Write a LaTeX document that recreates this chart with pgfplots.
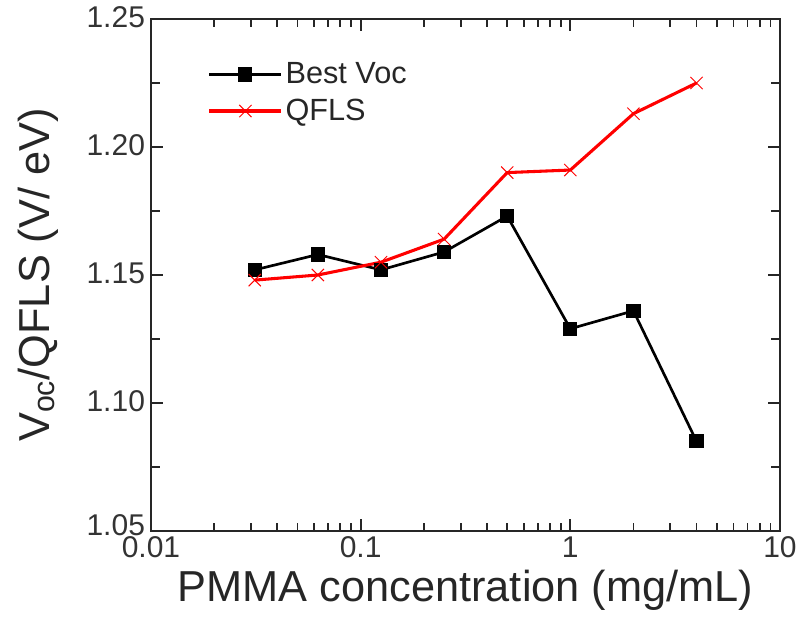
\documentclass[border=0pt]{standalone}
\usepackage{pgfplots}
\pgfplotsset{compat=1.18}
\usepackage{fontspec}
\setmainfont{Liberation Sans}
\begin{document}
\begin{tikzpicture}
\begin{axis}[
  name=ax,
  scale only axis,
  width=471.75pt, height=384pt,
  xmode=log,
  xmin=0.01, xmax=10,
  ymin=1.05, ymax=1.25,
  xtick={0.01,0.1,1,10},
  xticklabels={0.01,0.1,1,10},
  extra x ticks={0.02,0.03,0.04,0.05,0.06,0.07,0.08,0.09,0.2,0.3,0.4,0.5,0.6,0.7,0.8,0.9,2,3,4,5,6,7,8,9},
  extra x tick labels={},
  extra x tick style={major tick length=6pt},
  ytick={1.05,1.10,1.15,1.20,1.25},
  yticklabels={\raisebox{7pt}{1.05},1.10,1.15,1.20,1.25},
  extra y ticks={1.075,1.125,1.175,1.225},
  extra y tick labels={},
  extra y tick style={major tick length=7pt},
  tick label style={font=\fontsize{22.5}{26}\selectfont, text=black!80},
  xticklabel style={yshift=-1pt},
  yticklabel style={xshift=-1pt, yshift=1pt},
  label style={font=\fontsize{32.5}{38}\selectfont, text=black!85},
  xlabel={PMMA concentration (mg/mL)},
  ylabel={V\textsubscript{oc}/QFLS (V/ eV)},
  ylabel style={yshift=14pt},
  xlabel style={yshift=-2pt},
  tick align=inside,
  major tick length=9pt,
  tick style={draw=black!85, line width=1.3pt},
  axis line style={black!85, line width=1.3pt},
  legend style={draw=none, fill=none, at={(0.09,0.92)}, anchor=north west,
    font=\fontsize{23}{29}\selectfont, inner sep=0pt, row sep=6pt,
    cells={anchor=west}, text=black!85},
  legend cell align=left,
  legend image code/.code={\draw[mark repeat=2,mark phase=2] plot coordinates {(0pt,0pt)(27pt,0pt)(54pt,0pt)};},
]
\addplot[black, line width=2pt, mark=square*, mark size=4.3pt, mark options={solid}]
  coordinates {(0.03125,1.152)(0.0625,1.158)(0.125,1.152)(0.25,1.159)(0.5,1.173)(1,1.129)(2,1.136)(4,1.085)};
\addlegendentry{Best Voc}
\addplot[red, line width=2.3pt, mark=x, mark size=6.5pt, mark options={line width=0.7pt}]
  coordinates {(0.03125,1.148)(0.0625,1.150)(0.125,1.155)(0.25,1.164)(0.5,1.190)(1,1.191)(2,1.213)(4,1.225)};
\addlegendentry{QFLS}
\end{axis}
\pgfresetboundingbox
\path (ax.south west) ++(-113.25pt,-72.75pt) coordinate (bl);
\path (ax.north east) ++(19.5pt,14.25pt) coordinate (tr);
\path[use as bounding box] (bl) rectangle (tr);
\end{tikzpicture}
\end{document}
